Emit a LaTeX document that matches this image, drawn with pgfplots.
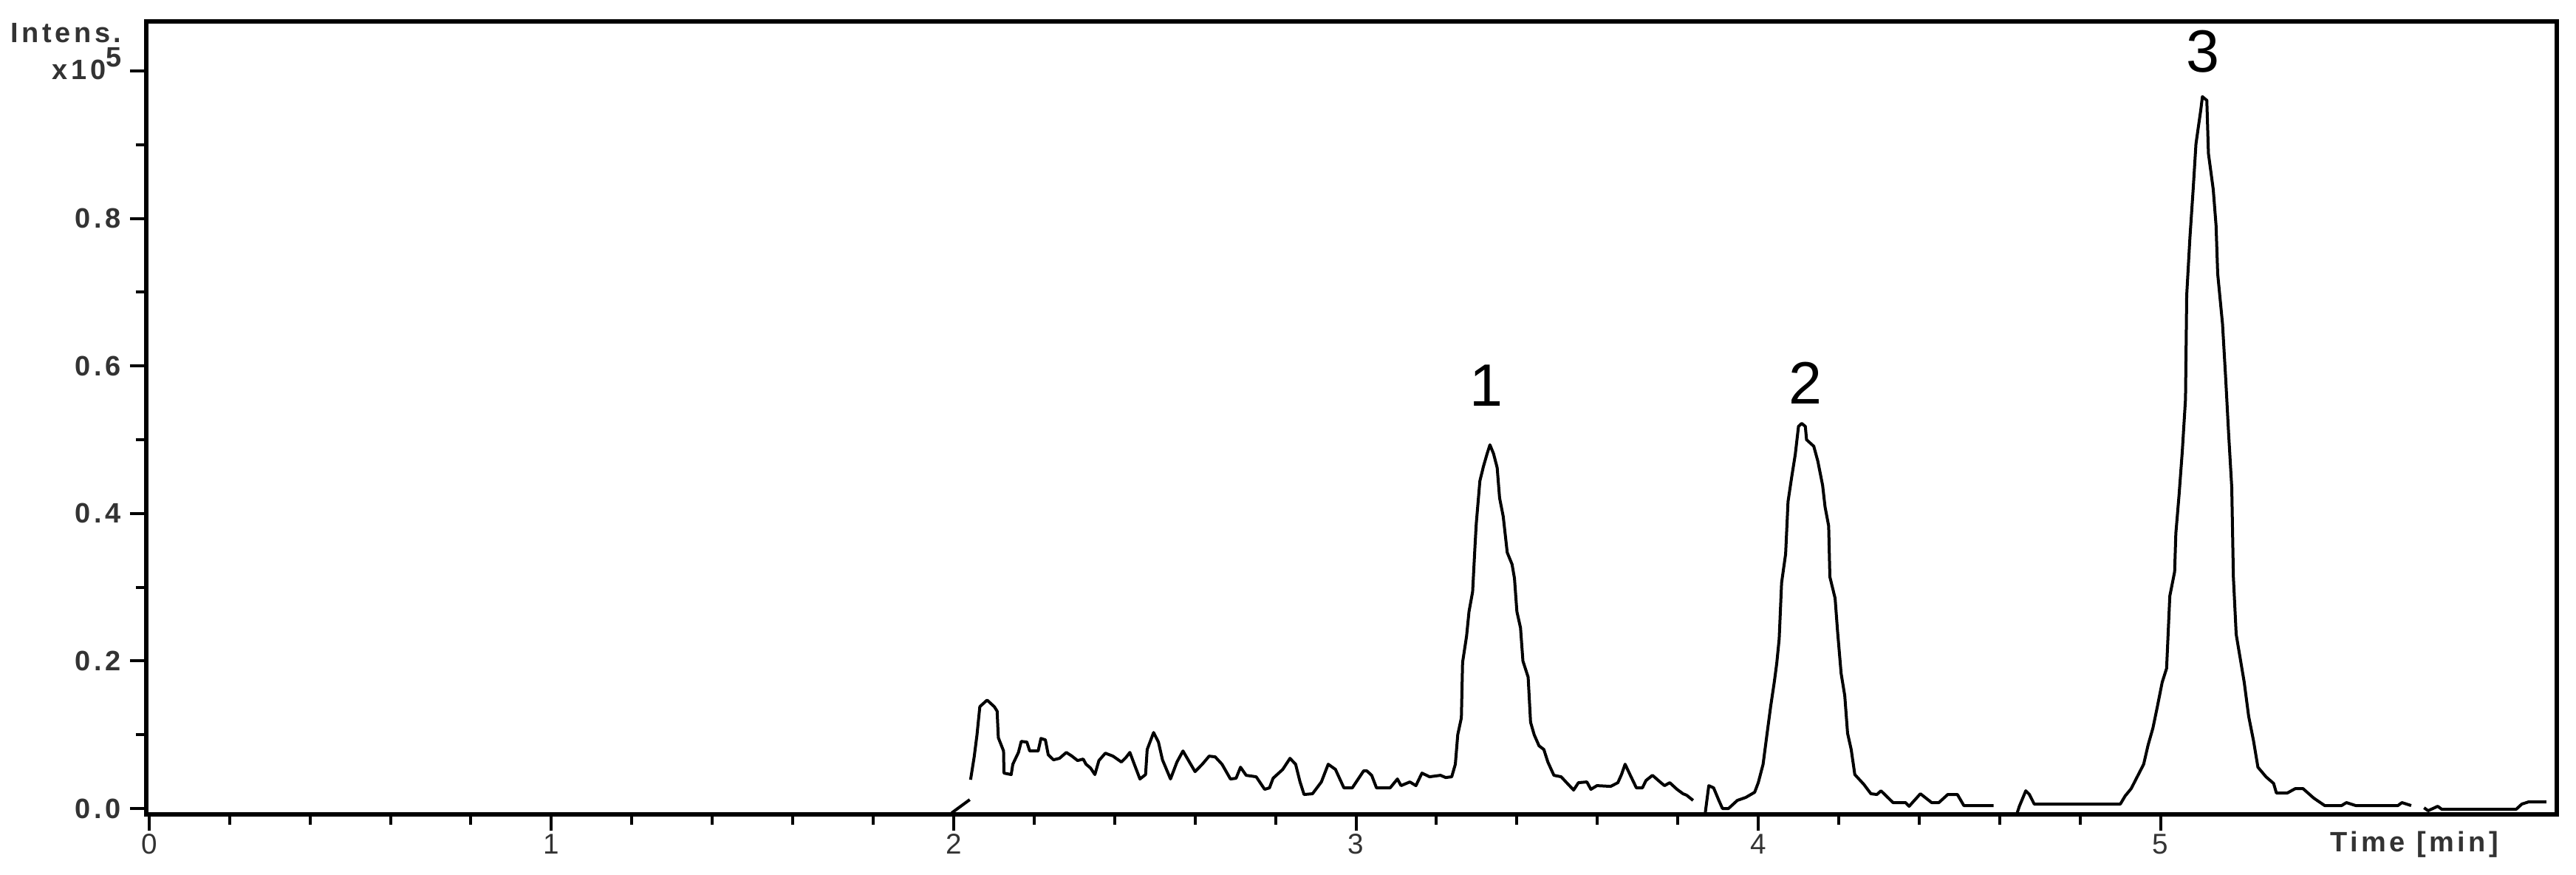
\documentclass[border=0pt]{standalone}
\usepackage{fontspec}
\setmainfont{Liberation Sans}
\newfontfamily\lbl[LetterSpace=12]{Liberation Sans}
\usepackage{pgfplots}
\pgfplotsset{compat=1.18}
\usetikzlibrary{calc}

\begin{document}
\begin{tikzpicture}
\begin{axis}[
    width=326.3mm, height=107.3mm, scale only axis,
    xmin=-0.007, xmax=5.985, ymin=-0.008, ymax=1.067,
    axis line style={line width=0.6mm},
    tick align=outside, xtick pos=left, ytick pos=left,
    xtick={0,1,2,3,4,5}, xticklabels={0,1,2,3,4,5},
    minor x tick num=4,
    ytick={0,0.2,0.4,0.6,0.8,1.0}, yticklabels={0.0,0.2,0.4,0.6,0.8,{}},
    minor y tick num=1,
    major tick length=2.2mm, minor tick length=1.4mm,
    every tick/.style={black, line width=0.4mm},
    xticklabel style={font=\fontsize{11}{13}\lbl, text=black!80, yshift=0.8mm},
    yticklabel style={font=\fontsize{10.8}{13}\lbl\bfseries, text=black!80},
    clip=false,
]
% small slanted piece near 2 min
\addplot[black, line width=0.4mm, mark=none] coordinates {(1.995,-0.006) (2.040,0.012)};
% noise and peak 1
\addplot[black, line width=0.4mm, mark=none, line join=round] coordinates {
(2.042,0.039) (2.051,0.070) (2.058,0.100) (2.065,0.138) (2.083,0.147) (2.101,0.138)
(2.108,0.132) (2.111,0.096) (2.124,0.078) (2.125,0.048) (2.143,0.046) (2.147,0.060)
(2.161,0.076) (2.168,0.091) (2.182,0.090) (2.189,0.078) (2.210,0.078) (2.217,0.095)
(2.228,0.093) (2.235,0.073) (2.248,0.066) (2.263,0.068) (2.280,0.076) (2.294,0.071)
(2.308,0.065) (2.322,0.067) (2.329,0.060) (2.340,0.055) (2.351,0.046) (2.361,0.065)
(2.377,0.075) (2.396,0.071) (2.417,0.063) (2.428,0.069) (2.438,0.076) (2.449,0.060)
(2.463,0.040) (2.477,0.046) (2.481,0.080) (2.497,0.103) (2.509,0.090) (2.519,0.066)
(2.539,0.040) (2.555,0.063) (2.570,0.078) (2.586,0.063) (2.600,0.050) (2.618,0.060)
(2.635,0.071) (2.650,0.070) (2.667,0.060) (2.688,0.040) (2.702,0.041) (2.713,0.056)
(2.727,0.045) (2.752,0.043) (2.773,0.026) (2.785,0.028) (2.794,0.041) (2.818,0.053)
(2.836,0.068) (2.850,0.060) (2.861,0.036) (2.871,0.019) (2.892,0.020) (2.914,0.036)
(2.931,0.060) (2.949,0.053) (2.970,0.028) (2.991,0.028) (3.019,0.051) (3.027,0.051)
(3.039,0.045) (3.051,0.028) (3.085,0.028) (3.103,0.040) (3.112,0.031) (3.134,0.036)
(3.149,0.031) (3.164,0.048) (3.183,0.043) (3.210,0.045) (3.223,0.042) (3.238,0.043)
(3.247,0.060) (3.253,0.100) (3.262,0.123) (3.265,0.198) (3.275,0.234) (3.281,0.267)
(3.290,0.294) (3.296,0.357) (3.299,0.386) (3.308,0.444) (3.317,0.464) (3.326,0.481)
(3.333,0.493) (3.342,0.481) (3.351,0.462) (3.357,0.421) (3.366,0.396) (3.376,0.347)
(3.388,0.331) (3.394,0.312) (3.400,0.267) (3.409,0.245) (3.415,0.200) (3.428,0.178)
(3.434,0.117) (3.443,0.100) (3.455,0.085) (3.467,0.080) (3.477,0.063) (3.492,0.045)
(3.510,0.043) (3.522,0.036) (3.541,0.025) (3.553,0.035) (3.574,0.036) (3.584,0.026)
(3.599,0.031) (3.633,0.030) (3.651,0.035) (3.660,0.046) (3.669,0.060) (3.682,0.045)
(3.697,0.028) (3.712,0.028) (3.721,0.038) (3.737,0.045) (3.758,0.035) (3.767,0.031)
(3.780,0.035) (3.798,0.026) (3.813,0.020) (3.822,0.018) (3.838,0.011)
};
% peak 2
\addplot[black, line width=0.4mm, mark=none, line join=round] coordinates {
(3.868,-0.007) (3.877,0.031) (3.889,0.028) (3.902,0.011) (3.911,0.000) (3.926,0.000)
(3.948,0.011) (3.969,0.015) (3.991,0.022) (4.000,0.035) (4.012,0.060) (4.022,0.102)
(4.031,0.139) (4.040,0.172) (4.046,0.197) (4.052,0.230) (4.058,0.306) (4.068,0.345)
(4.074,0.416) (4.083,0.449) (4.092,0.480) (4.100,0.518) (4.108,0.522) (4.117,0.518)
(4.120,0.500) (4.138,0.491) (4.148,0.471) (4.160,0.438) (4.166,0.409) (4.175,0.383)
(4.178,0.314) (4.191,0.285) (4.197,0.241) (4.206,0.183) (4.215,0.153) (4.222,0.102)
(4.231,0.080) (4.240,0.046) (4.262,0.033) (4.280,0.020) (4.295,0.019) (4.305,0.024)
(4.335,0.008) (4.366,0.008) (4.375,0.003) (4.403,0.020) (4.431,0.008) (4.449,0.008)
(4.471,0.019) (4.495,0.019) (4.511,0.004) (4.585,0.004)
};
% peak 3
\addplot[black, line width=0.4mm, mark=none, line join=round] coordinates {
(4.643,-0.007) (4.649,0.003) (4.665,0.024) (4.674,0.019) (4.686,0.006) (4.696,0.006)
(4.900,0.006) (4.912,0.017) (4.927,0.027) (4.942,0.043) (4.958,0.060) (4.969,0.086)
(4.981,0.109) (4.992,0.138) (5.004,0.171) (5.015,0.190) (5.023,0.288) (5.035,0.321)
(5.038,0.373) (5.046,0.425) (5.054,0.484) (5.062,0.555) (5.065,0.696) (5.073,0.774)
(5.081,0.839) (5.088,0.901) (5.100,0.947) (5.104,0.965) (5.115,0.960) (5.119,0.888)
(5.131,0.839) (5.138,0.790) (5.142,0.725) (5.154,0.657) (5.162,0.582) (5.169,0.510)
(5.177,0.435) (5.181,0.314) (5.188,0.236) (5.200,0.197) (5.208,0.171) (5.219,0.125)
(5.231,0.092) (5.242,0.056) (5.262,0.043) (5.281,0.034) (5.288,0.021) (5.315,0.021)
(5.335,0.027) (5.354,0.027) (5.381,0.014) (5.408,0.004) (5.450,0.004) (5.462,0.008)
(5.485,0.004) (5.590,0.004) (5.600,0.008) (5.623,0.004)
};
% tail
\addplot[black, line width=0.4mm, mark=none, line join=round] coordinates {
(5.655,0.001) (5.665,-0.003) (5.689,0.003) (5.699,-0.001) (5.884,-0.001)
(5.898,0.006) (5.915,0.009) (5.959,0.009)
};
% peak numbers
\node[anchor=base, font=\fontsize{23}{27}\selectfont] at (axis cs:3.324,0.546) {1};
\node[anchor=base, font=\fontsize{23}{27}\selectfont] at (axis cs:4.118,0.549) {2};
\node[anchor=base, font=\fontsize{23}{27}\selectfont] at (axis cs:5.106,0.998) {3};
% axis texts
\node[anchor=base east, inner sep=0pt, font=\fontsize{10.8}{13}\lbl\bfseries, text=black!80]
  at (axis description cs:-0.0101,0.973) {Intens.};
\node[anchor=base east, inner sep=0pt, font=\fontsize{10.8}{13}\lbl\bfseries, text=black!80]
  at (axis description cs:-0.0101,0.927) {x10\raisebox{0.45em}{5}};
\node[anchor=base east, inner sep=0pt, font=\fontsize{10.8}{13}\lbl\bfseries, text=black!80]
  at (axis description cs:0.976,-0.0475) {Time [min]};
\end{axis}
\pgfresetboundingbox
\useasboundingbox ($(current axis.south west)+(-19.8mm,-8.1mm)$) rectangle ($(current axis.north east)+(2.6mm,2.9mm)$);
\end{tikzpicture}
\end{document}
